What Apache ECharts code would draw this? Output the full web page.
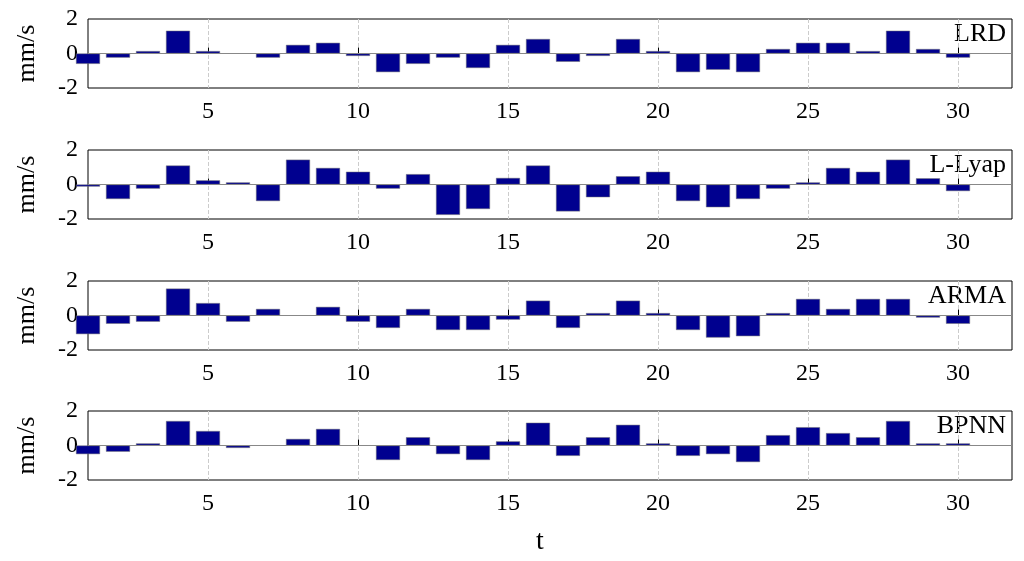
<!DOCTYPE html>
<html><head><meta charset="utf-8">
<script src="https://cdn.jsdelivr.net/npm/echarts@6/dist/echarts.min.js"></script>
<style>html,body{margin:0;padding:0;background:#fff}#c{width:1024px;height:561px}</style>
</head><body><div id="c"></div>
<script>
const t = Array.from({length:30},(_,i)=>i+1);
const names = ['LRD','L-Lyap','ARMA','BPNN'];
const lrd = [-0.6,-0.24,0.14,1.32,0.14,0,-0.24,0.5,0.62,-0.14,-1.08,-0.6,-0.24,-0.84,0.5,0.84,-0.48,-0.14,0.84,0.14,-1.08,-0.94,-1.08,0.26,0.62,0.62,0.14,1.32,0.26,-0.24];
const llyap = [-0.12,-0.84,-0.24,1.1,0.24,0.12,-0.96,1.44,0.96,0.74,-0.24,0.6,-1.76,-1.42,0.38,1.1,-1.56,-0.74,0.48,0.74,-0.96,-1.32,-0.84,-0.24,0.12,0.96,0.74,1.44,0.36,-0.38];
const arma = [-1.08,-0.48,-0.36,1.56,0.72,-0.36,0.38,0,0.5,-0.36,-0.72,0.38,-0.84,-0.84,-0.24,0.86,-0.72,0.14,0.86,0.14,-0.84,-1.28,-1.2,0.14,0.96,0.38,0.96,0.96,-0.12,-0.48];
const bpnn = [-0.5,-0.36,0.12,1.42,0.84,-0.14,0,0.38,0.96,0,-0.84,0.48,-0.5,-0.84,0.24,1.32,-0.6,0.48,1.2,0.12,-0.6,-0.5,-0.96,0.6,1.06,0.72,0.48,1.42,0.12,0.12];
const xTicks = [5,10,15,20,25,30];
const yTicks = [-2,0,2];
const series = [lrd,llyap,arma,bpnn];
const tops = [19,150,281,411];
const font = 'Liberation Serif';
const grid=[],xAxis=[],yAxis=[],ser=[],graphic=[];
series.forEach((vals,i)=>{
  grid.push({left:88,right:12,top:tops[i],height:69,show:true,borderColor:'#000',borderWidth:1,backgroundColor:'#fff'});
  xAxis.push({type:'value',gridIndex:i,min:1,max:31.8,
    axisLine:{show:false},
    axisTick:{show:true,inside:true,length:6,customValues:xTicks,lineStyle:{color:'#000'}},
    axisLabel:{customValues:xTicks,fontFamily:font,fontSize:24,color:'#000',margin:12},
    splitLine:{show:true,lineStyle:{color:'#ccc',type:'dashed'}}});
  yAxis.push({type:'value',gridIndex:i,min:-2,max:2,interval:2,
    axisLine:{show:false},axisTick:{show:false},
    axisLabel:{fontFamily:font,fontSize:24,color:'#000',margin:10},
    splitLine:{show:false},
    name:'mm/s',nameLocation:'middle',nameGap:48,nameTextStyle:{fontFamily:font,fontSize:26,color:'#000'}});
  ser.push({type:'bar',xAxisIndex:i,yAxisIndex:i,barWidth:24,
    data:vals.map((v,k)=>[t[k],v]),
    itemStyle:{color:'#00008f',borderColor:'#777',borderWidth:0.5},
    markLine:{silent:true,symbol:'none',label:{show:false},lineStyle:{color:'#888',type:'solid',width:1},data:[{yAxis:0}]},
    animation:false});
  graphic.push({type:'text',right:18,top:tops[i]+2,style:{text:names[i],font:'26px "Liberation Serif"',fill:'#000'}});
});
graphic.push({type:'text',left:536,top:528,style:{text:'t',font:'28px "Liberation Serif"',fill:'#000'}});
const chart = echarts.init(document.getElementById('c'));
chart.setOption({animation:false,grid,xAxis,yAxis,series:ser,graphic});
</script></body></html>
